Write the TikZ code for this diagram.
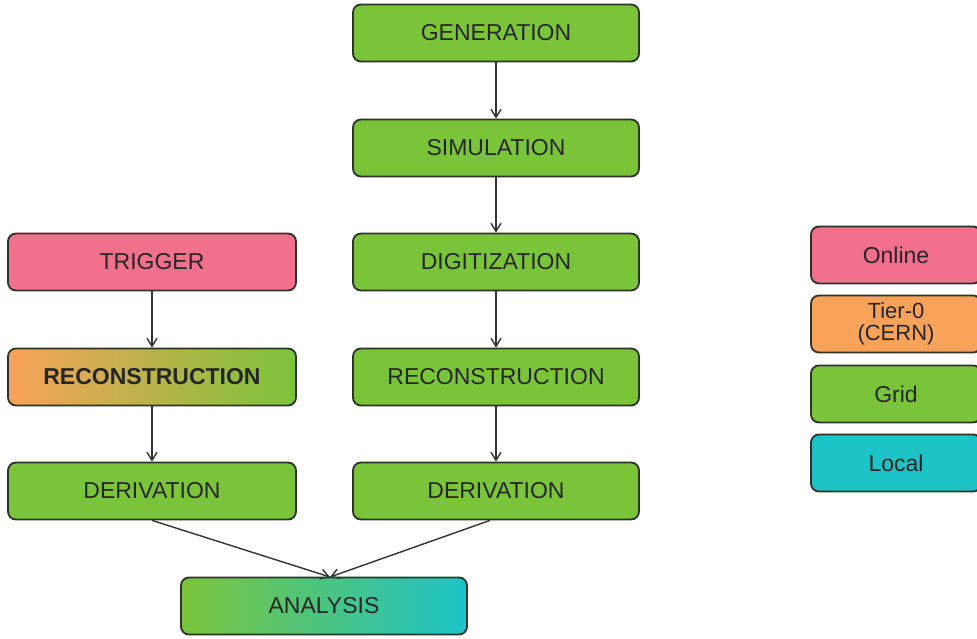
\documentclass[tikz,border=0pt]{standalone}
\usepackage{fontspec}
\setmainfont{Liberation Sans}
\usetikzlibrary{arrows.meta}
\definecolor{cpink}{RGB}{242,112,140}
\definecolor{corange}{RGB}{248,162,90}
\definecolor{cgreen}{RGB}{122,196,58}
\definecolor{ccyan}{RGB}{28,196,200}
\definecolor{cborder}{RGB}{45,50,40}
\begin{document}
\begin{tikzpicture}[x=1pt,y=-1pt,
  box/.style={draw=cborder,line width=1.8pt,rounded corners=8pt,minimum height=57pt,
    inner sep=0pt,font=\fontsize{23}{24}\selectfont,text=black!85},
  wide/.style={box,minimum width=286pt},
  leg/.style={box,minimum width=170pt},
  arr/.style={-{Straight Barb[length=8pt,width=10pt]},line width=1.4pt,draw=black!80}]
\useasboundingbox (0,0) rectangle (977,639);
\node[wide,fill=cgreen] (gen) at (496,33) {GENERATION};
\node[wide,fill=cgreen] (sim) at (496,148) {SIMULATION};
\node[wide,fill=cgreen] (dig) at (496,262) {DIGITIZATION};
\node[wide,fill=cgreen] (recr) at (496,377) {RECONSTRUCTION};
\node[wide,fill=cgreen] (derr) at (496,491) {DERIVATION};
\node[wide,minimum width=288pt,fill=cpink] (trig) at (152,262) {TRIGGER};
\node[wide,minimum width=288pt,left color=corange,right color=cgreen,font=\fontsize{23}{24}\selectfont\bfseries] (recl) at (152,377) {RECONSTRUCTION};
\node[wide,minimum width=288pt,fill=cgreen] (derl) at (152,491) {DERIVATION};
\node[wide,left color=cgreen,right color=ccyan] (ana) at (324,606) {ANALYSIS};
\node[leg,fill=cpink] (on) at (896,255) {Online};
\node[leg,fill=corange,align=center,font=\fontsize{22}{22}\selectfont] (t0) at (896,324) {Tier-0\\(CERN)};
\node[leg,fill=cgreen] (grid) at (896,394) {Grid};
\node[leg,fill=ccyan] (loc) at (896,463) {Local};
\draw[arr] (gen) -- (sim);
\draw[arr] (sim) -- (dig);
\draw[arr] (dig) -- (recr);
\draw[arr] (recr) -- (derr);
\draw[arr] (trig) -- (recl);
\draw[arr] (recl) -- (derl);
\coordinate (m) at (330,577);
\draw[arr] (derl.south) -- (m);
\draw[arr] (derr.south) ++(-6,0) -- (m);
\end{tikzpicture}
\end{document}
